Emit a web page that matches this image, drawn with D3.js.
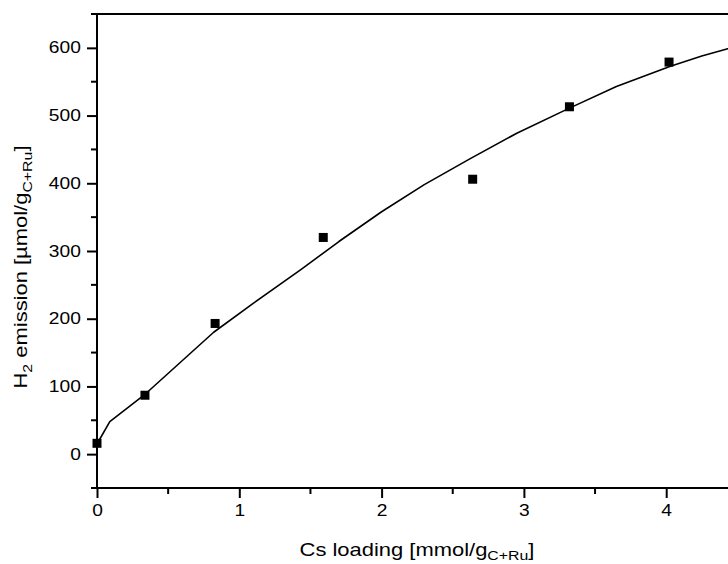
<!DOCTYPE html>
<html><head><meta charset="utf-8">
<script src="https://cdn.jsdelivr.net/npm/d3@7"></script>
<style>body{margin:0;background:#fff}svg{display:block}text{font-family:Arial,"Liberation Sans",sans-serif;fill:#000}</style>
</head><body><svg id="c" width="728" height="564"></svg>
<script>
const pointsX = [0, 0.337, 0.83, 1.59, 2.64, 3.32, 4.02];
const pointsY = [16, 87, 193, 320, 406, 513, 579];
const fitX = [0, 0.09, 0.33, 0.82, 1.1, 1.43, 1.7, 2.0, 2.3, 2.62, 2.95, 3.32, 3.65, 4.03, 4.25, 4.42, 4.55];
const fitY = [15, 48, 87, 180, 223, 272, 314, 358, 398, 436, 474, 511, 543, 573, 588, 598, 606];
const xTicks = [0, 1, 2, 3, 4];
const yTicks = [0, 100, 200, 300, 400, 500, 600];
const xMinor = [0.5, 1.5, 2.5, 3.5, 4.5];
const yMinor = [-50, 50, 150, 250, 350, 450, 550, 650];

const svg = d3.select("#c");
const L = 97, T = 14, B = 488;
const SX = 1.2;
const x = d3.scaleLinear().domain([0, 4.5]).range([L, L + 4.5 * 142.3]);
const y = d3.scaleLinear().domain([-50, 650]).range([B, T]);

// fit curve
const line = d3.line().x(d => x(d[0])).y(d => y(d[1]));
svg.append("path").datum(d3.zip(fitX, fitY)).attr("d", line)
  .attr("fill", "none").attr("stroke", "#000").attr("stroke-width", 1.6).attr("stroke-linejoin", "round");

// points
const s = 9;
svg.selectAll("rect.pt").data(d3.zip(pointsX, pointsY)).enter().append("rect")
  .attr("x", d => x(d[0]) - s / 2).attr("y", d => y(d[1]) - s / 2)
  .attr("width", s).attr("height", s).attr("fill", "#000");

// axes
const xAxis = d3.axisBottom(x).tickValues(xTicks).tickFormat(d3.format("d")).tickSize(10).tickPadding(7);
const gx = svg.append("g").attr("transform", `translate(0,${B})`).call(xAxis);
gx.selectAll(".tick text").attr("font-size", 16).attr("font-family", "Arial, 'Liberation Sans', sans-serif")
  .attr("transform", `scale(${SX},1)`);
gx.selectAll(".tick line").attr("stroke-width", 2);
gx.select(".domain").attr("stroke-width", 2).attr("d", `M${L},0H${x(4.5) + 20}`);
gx.selectAll(".minor").data(xMinor).enter().append("line").attr("class", "minor")
  .attr("x1", d => x(d)).attr("x2", d => x(d)).attr("y1", 0).attr("y2", 6)
  .attr("stroke", "#000").attr("stroke-width", 2);

const yAxis = d3.axisLeft(y).tickValues(yTicks).tickFormat(d3.format("d")).tickSize(10).tickPadding(3.5);
const gy = svg.append("g").attr("transform", `translate(${L},0)`).call(yAxis);
gy.selectAll(".tick text").attr("font-size", 16).attr("font-family", "Arial, 'Liberation Sans', sans-serif")
  .attr("transform", `scale(${SX},1)`);
gy.selectAll(".tick line").attr("stroke-width", 2);
gy.select(".domain").attr("stroke-width", 2).attr("d", `M0,${B}V${T}`);
gy.selectAll(".minor").data(yMinor).enter().append("line").attr("class", "minor")
  .attr("x1", -6).attr("x2", 0).attr("y1", d => y(d)).attr("y2", d => y(d))
  .attr("stroke", "#000").attr("stroke-width", 2);

// top frame
svg.append("line").attr("x1", L - 1).attr("x2", 740).attr("y1", T).attr("y2", T)
  .attr("stroke", "#000").attr("stroke-width", 2);

// titles
const xt = svg.append("text").attr("transform", `translate(417,556) scale(1.22,1)`)
  .attr("text-anchor", "middle").attr("font-size", 18);
xt.append("tspan").text("Cs loading [mmol/g");
xt.append("tspan").attr("font-size", 13).attr("dy", 4).text("C+Ru");
xt.append("tspan").attr("dy", -4).text("]");

const yt = svg.append("text").attr("transform", "translate(27,267) rotate(-90) scale(1.22,1)")
  .attr("text-anchor", "middle").attr("font-size", 18);
yt.append("tspan").text("H");
yt.append("tspan").attr("font-size", 13).attr("dy", 5).text("2");
yt.append("tspan").attr("dy", -5).text(" emission [µmol/g");
yt.append("tspan").attr("font-size", 13).attr("dy", 5).text("C+Ru");
yt.append("tspan").attr("dy", -5).text("]");
</script></body></html>
